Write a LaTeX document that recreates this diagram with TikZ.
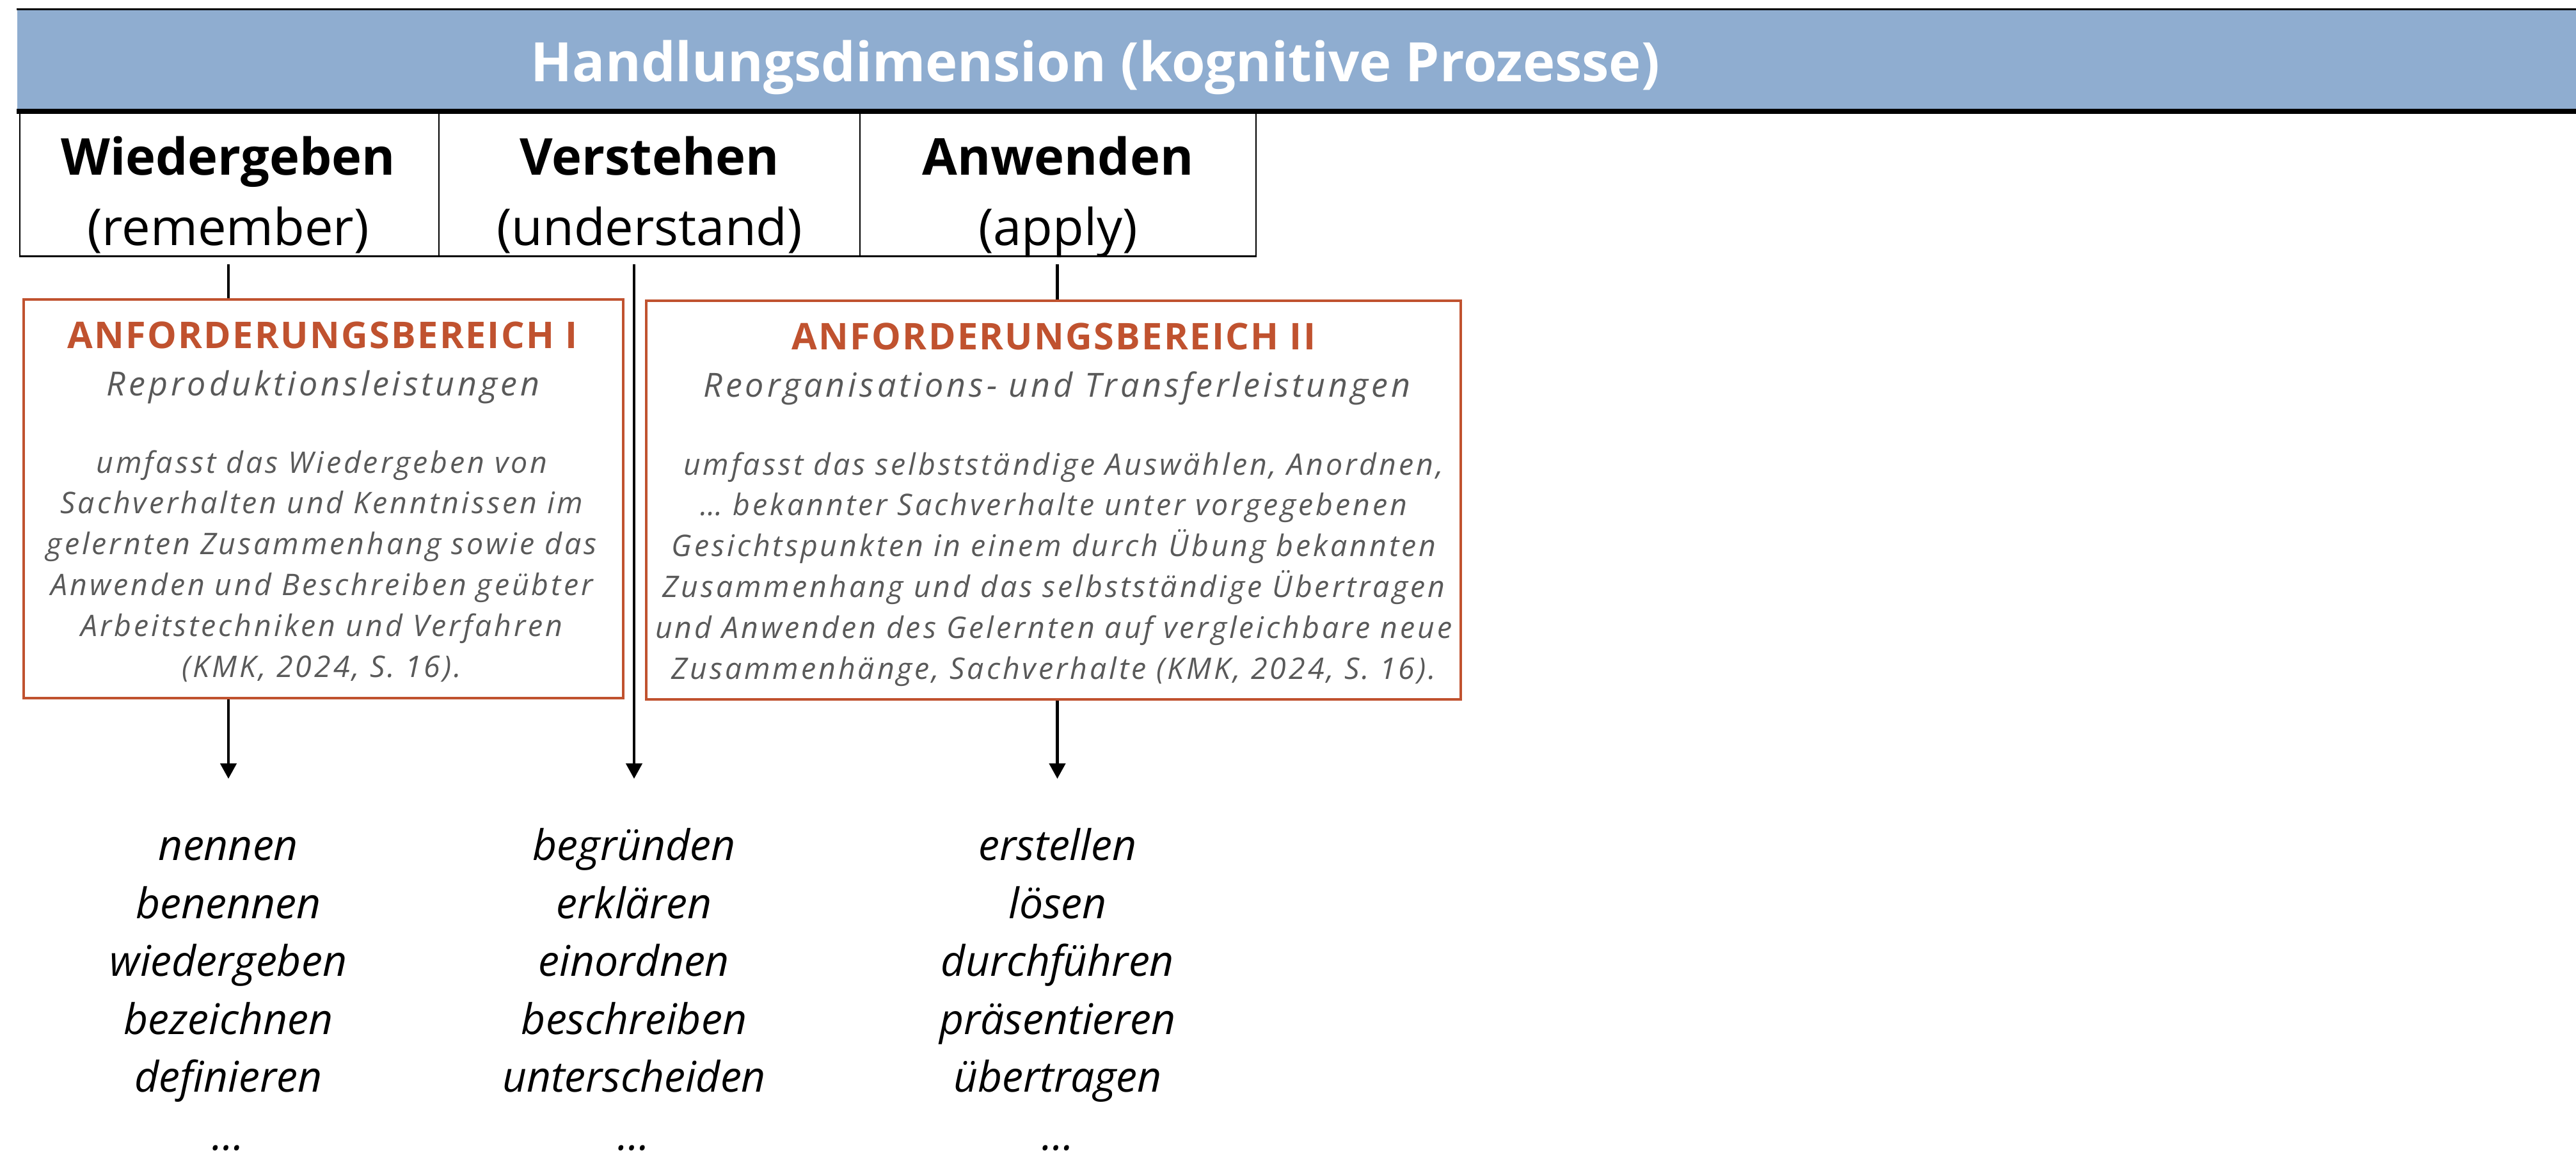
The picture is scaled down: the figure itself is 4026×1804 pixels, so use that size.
\documentclass[tikz,border=0pt]{standalone}
\usepackage{fontspec}
\setmainfont{Open Sans}
\newfontfamily\boxtitlefont[LetterSpace=4]{Open Sans}
\newfontfamily\boxbodyfont[LetterSpace=8.5]{Open Sans}
\newfontfamily\boxsubfont[LetterSpace=9.5]{Open Sans}
\usetikzlibrary{arrows.meta}
\definecolor{barblue}{HTML}{8FADD0}
\definecolor{accent}{HTML}{C0522F}
\definecolor{bodygray}{HTML}{595959}
\newlength\fitw
\newcommand\fitfont[4]{%
  \settowidth\fitw{#2\fontsize{10pt}{12pt}\selectfont #4}%
  \pgfmathsetmacro#1{10*#3/\fitw}\global\let#1#1}
\begin{document}
% font sizes fitted to the measured text widths
\fitfont{\szBar}{\bfseries}{352.8}{Handlungsdimension (kognitive Prozesse)}%
\fitfont{\szHB}{\bfseries}{104.4}{Wiedergeben}%
\fitfont{\szHR}{\mdseries}{95.6}{(understand)}%
\fitfont{\szTitle}{\boxtitlefont\bfseries}{159.4}{ANFORDERUNGSBEREICH I}%
\fitfont{\szSub}{\boxsubfont\itshape}{135.2}{Reproduktionsleistungen}%
\fitfont{\szBody}{\boxbodyfont\itshape}{172}{gelernten Zusammenhang sowie das}%
\fitfont{\szVerb}{\itshape}{82.4}{unterscheiden}%
\begin{tikzpicture}[x=0.2pt,y=-0.2pt,
  cell/.style={draw=black, line width=0.5pt, minimum height=44.6pt, inner sep=0pt},
  headtext/.style={anchor=base, align=center, inner sep=0pt, font=\fontsize{16pt}{22pt}\selectfont},
  areabox/.style={draw=accent, line width=0.65pt, minimum height=124.6pt, inner sep=0pt},
  areatitle/.style={anchor=base, inner sep=0pt, text=accent, font=\boxtitlefont\bfseries\fontsize{\szTitle pt}{13pt}\selectfont},
  areasub/.style={anchor=base, inner sep=0pt, text=bodygray, font=\boxsubfont\itshape\fontsize{\szSub pt}{13pt}\selectfont},
  areabody/.style={anchor=base, align=center, inner sep=0pt, text=bodygray, font=\boxbodyfont\itshape\fontsize{\szBody pt}{12.76pt}\selectfont},
  verbs/.style={anchor=base, align=center, inner sep=0pt, font=\itshape\fontsize{\szVerb pt}{18.1pt}\selectfont},
  conn/.style={draw=black, line width=0.9pt},
  arr/.style={conn, -{Triangle[length=4.8pt, width=5pt]}}]
\useasboundingbox (0,0) rectangle (4026,1804);
% header bar
\node[fill=barblue, minimum width=799.8pt, minimum height=31pt, inner sep=0pt] (bar) at (2026.5,92.5) {};
\draw[black, line width=0.6pt] (bar.north west) -- (bar.north east);
\draw[black, line width=1.5pt] ([yshift=-0.6pt]bar.south west) -- ([yshift=-0.6pt]bar.south east);
\node[anchor=base, inner sep=0pt, text=white, font=\bfseries\fontsize{\szBar pt}{20pt}\selectfont] (bartitle) at (1712,127) {Handlungsdimension (kognitive Prozesse)};
% header cells
\node[cell, minimum width=131.0pt] (c1) at (358.5,288.5) {};
\node[cell, minimum width=131.6pt] (c2) at (1015,288.5) {};
\node[cell, minimum width=123.8pt] (c3) at (1653.5,288.5) {};
\draw[black, line width=0.45pt] (c1.south west) -- (c3.south east);
\node[headtext] (h1) at (356.5,383) {{\fontsize{\szHB pt}{22pt}\selectfont\bfseries Wiedergeben}\\{\fontsize{\szHR pt}{22pt}\selectfont (remember)}};
\node[headtext] (h2) at (1015,383) {{\fontsize{\szHB pt}{22pt}\selectfont\bfseries Verstehen}\\{\fontsize{\szHR pt}{22pt}\selectfont (understand)}};
\node[headtext] (h3) at (1653.5,383) {{\fontsize{\szHB pt}{22pt}\selectfont\bfseries Anwenden}\\{\fontsize{\szHR pt}{22pt}\selectfont (apply)}};
% boxes
\node[areabox, minimum width=187.4pt] (b1) at (505.5,779.5) {};
\node[areabox, minimum width=254.6pt] (b2) at (1646.5,781.5) {};
\node[areatitle] (t1) at (504,544) {ANFORDERUNGSBEREICH I};
\node[areasub] (s1) at (505,618) {Reproduktionsleistungen};
\node[areabody] (d1) at (503,1058) {umfasst das Wiedergeben von\\Sachverhalten und Kenntnissen im\\gelernten Zusammenhang sowie das\\Anwenden und Beschreiben geübter\\Arbeitstechniken und Verfahren\\(KMK, 2024, S. 16).};
\node[areatitle] (t2) at (1647,546) {ANFORDERUNGSBEREICH II};
\node[areasub] (s2) at (1652,620) {Reorganisations- und Transferleistungen};
\node[areabody] (d2) at (1647,1061) {\hspace*{6pt}umfasst das selbstständige Auswählen, Anordnen,\\… bekannter Sachverhalte unter vorgegebenen\\Gesichtspunkten in einem durch Übung bekannten\\Zusammenhang und das selbstständige Übertragen\\und Anwenden des Gelernten auf vergleichbare neue\\Zusammenhänge, Sachverhalte (KMK, 2024, S. 16).};
% verb lists
\node[verbs] (v1) at (357,1797) {nennen\\benennen\\wiedergeben\\bezeichnen\\definieren\\…};
\node[verbs] (v2) at (991,1797) {begründen\\erklären\\einordnen\\beschreiben\\unterscheiden\\…};
\node[verbs] (v3) at (1653,1797) {erstellen\\lösen\\durchführen\\präsentieren\\übertragen\\…};
% connectors
\coordinate (tip1) at (357,1217);
\coordinate (tip2) at (991,1217);
\coordinate (tip3) at (1652.5,1217);
\draw[conn] ([yshift=-2.4pt]tip1 |- c1.south) -- (tip1 |- b1.north);
\draw[arr] (tip1 |- b1.south) -- (tip1);
\draw[arr] ([yshift=-2.4pt]tip2 |- c2.south) -- (tip2);
\draw[conn] ([yshift=-2.4pt]tip3 |- c3.south) -- (tip3 |- b2.north);
\draw[arr] (tip3 |- b2.south) -- (tip3);
\end{tikzpicture}
\end{document}
